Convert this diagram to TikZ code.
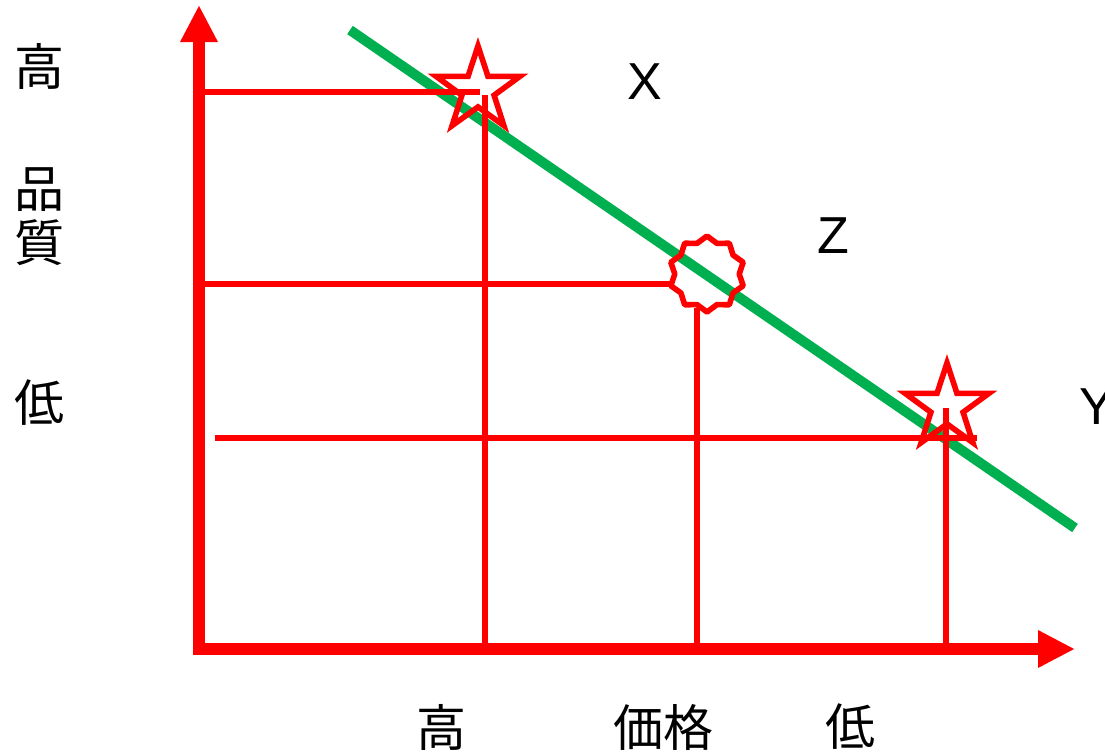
\documentclass[tikz,border=0pt]{standalone}
\usepackage{fontspec}
\setmainfont{Liberation Sans}
\newfontfamily\jp{Noto Sans CJK JP}
\usepackage{tikz}
\usetikzlibrary{arrows.meta,shapes.geometric}
\definecolor{mark}{HTML}{FF0000}
\definecolor{trend}{HTML}{00B050}
\tikzset{axis/.style={draw=mark,line width=6pt,-{Triangle[length=18.5pt,width=17.5pt]}},guide/.style={draw=mark,line width=2.8pt},trendline/.style={draw=trend,line width=5pt},starmark/.style={star,star points=5,star point ratio=2.6,draw=mark,line width=2.8pt,minimum size=44pt,inner sep=0pt},burst/.style={star,star points=10,star point ratio=1.18,draw=mark,line width=2.8pt,line join=round,minimum size=38pt,inner sep=0pt},letter/.style={font=\fontsize{26}{28}\selectfont},kanji/.style={font=\jp\fontsize{25}{27}\selectfont,align=center}}

\begin{document}
\begin{tikzpicture}[x=0.5pt,y=-0.5pt]
\useasboundingbox (0,0) rectangle (1105,751);
\coordinate (top) at (199,5);\coordinate (right) at (1075,649);
\draw[trendline] (350,30) coordinate (t1)--(1075,528) coordinate (t2);
\node[starmark] (X) at (478,90) {};
\node[burst] (Z) at (707,274) {};
\node[starmark] (Y) at (947,407) {};
% guide lines to the axes
\draw[guide] (205,92) coordinate (qX)--(480,92);\draw[guide] (485,95) coordinate (pX)--(485,645);
\draw[guide] (205,284) coordinate (qZ)--(670,284);\draw[guide] (697,308) coordinate (pZ)--(697,645);
\draw[guide] (215,438) coordinate (qY)--(977,438);\draw[guide] (946,408) coordinate (pY)--(946,645);
\draw[axis] (199,655)--(top);\draw[axis] (193,649)--(right);
\node[letter] (lX) at (645,82) {X};
\node[letter] (lZ) at (833,236) {Z};
\node[letter] (lY) at (1097,407) {Y};
\node[kanji] (hi) at (40,66) {高};
\node[kanji] (qual) at (40,217) {品\\質};
\node[kanji] (lo) at (40,403) {低};
\node[kanji] (phi) at (441,727) {高};
\node[kanji] (price) at (663,727) {価格};
\node[kanji] (plo) at (850,727) {低};
\end{tikzpicture}
\end{document}
